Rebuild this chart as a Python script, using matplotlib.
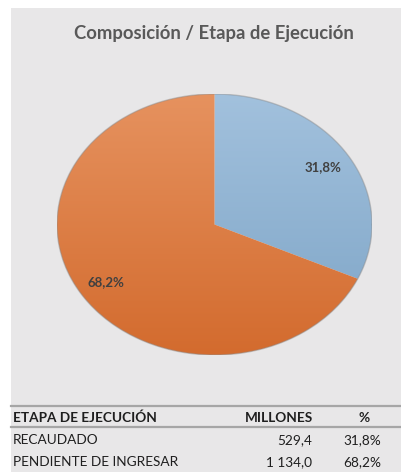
import matplotlib
matplotlib.use("Agg")
import matplotlib.pyplot as plt
import numpy as np
from matplotlib.patches import Rectangle
from matplotlib.colors import LinearSegmentedColormap

# ---- data ----
title = "Composición / Etapa de Ejecución"
categories = ["RECAUDADO", "PENDIENTE DE INGRESAR"]
values = [529.4, 1134.0]
value_labels = ["529,4", "1 134,0"]
pct_labels = ["31,8%", "68,2%"]
table_header = ["ETAPA DE EJECUCIÓN", "MILLONES", "%"]

W, H = 402, 472
fig = plt.figure(figsize=(W / 100, H / 100), dpi=100)
fig.patch.set_facecolor("white")

def fx(x):
    return x / W

def fy(y):
    return 1 - y / H

# gray background panel
bg = Rectangle((fx(11), 0), 1 - fx(11), fy(8), transform=fig.transFigure,
               facecolor="#e8e7e8", edgecolor="none", zorder=-10)
fig.patches.append(bg)

# title
fig.text(fx(214), fy(33), title, ha="center", va="center", fontsize=13.3,
         fontweight="bold", color="#595959", family="Lato")

# pie axes (elliptical)
cx, cy, rx, ry = 214.5, 224.5, 157.5, 130.5
ax = fig.add_axes([fx(cx - rx), fy(cy + ry), 2 * rx / W, 2 * ry / H])
ax.set_zorder(5)
ax.patch.set_visible(False)

grads = [("#a2c1dd", "#7da4c6"), ("#e6925f", "#d36b2e")]

def fmt(p):
    return f"{p:.1f}%".replace(".", ",")

wedges, texts, autotexts = ax.pie(values, startangle=90, counterclock=False,
                                  autopct=fmt, pctdistance=0.82,
                                  wedgeprops=dict(linewidth=0))
ax.set_aspect("auto")
ax.axis("off")

for w, (ctop, cbot) in zip(wedges, grads):
    w.set_facecolor("none")
    cmap = LinearSegmentedColormap.from_list("g", [cbot, ctop])
    grad = np.linspace(0, 1, 256).reshape(-1, 1)
    im = ax.imshow(grad, cmap=cmap, extent=(-1, 1, -1, 1), origin="lower",
                   aspect="auto", zorder=1)
    im.set_clip_path(w)

# soft edge shadow
theta = np.linspace(0, 2 * np.pi, 400)
ax.plot(np.cos(theta), np.sin(theta), color="#8a8a8a", lw=1.0, alpha=0.45, zorder=2)
ax.set_aspect("auto")
ax.set_xlim(-1, 1)
ax.set_ylim(-1, 1)

for t in autotexts:
    t.set_fontsize(9.5)
    t.set_fontweight("bold")
    t.set_color("#404040")
    t.set_family("Lato")
    t.set_zorder(5)

# table lines
for yl in (406, 427):
    fig.add_artist(plt.Line2D([fx(11), 1], [fy(yl), fy(yl)], transform=fig.transFigure,
                              color="#a6a6a6", lw=1.6))

tk = dict(fontsize=9.8, family="Lato", color="#1f1f1f", va="center")
fig.text(fx(13), fy(418), table_header[0], ha="left", fontweight="bold", **tk)
fig.text(fx(313), fy(418), table_header[1], ha="right", fontweight="bold", **tk)
fig.text(fx(364), fy(418), table_header[2], ha="center", fontweight="bold", **tk)

rows_y = [440, 462]
for cat, vl, pl, yy in zip(categories, value_labels, pct_labels, rows_y):
    fig.text(fx(13), fy(yy), cat, ha="left", **tk)
    fig.text(fx(312), fy(yy), vl, ha="right", **tk)
    fig.text(fx(381), fy(yy), pl, ha="right", **tk)

fig.savefig("out.png", dpi=100)
